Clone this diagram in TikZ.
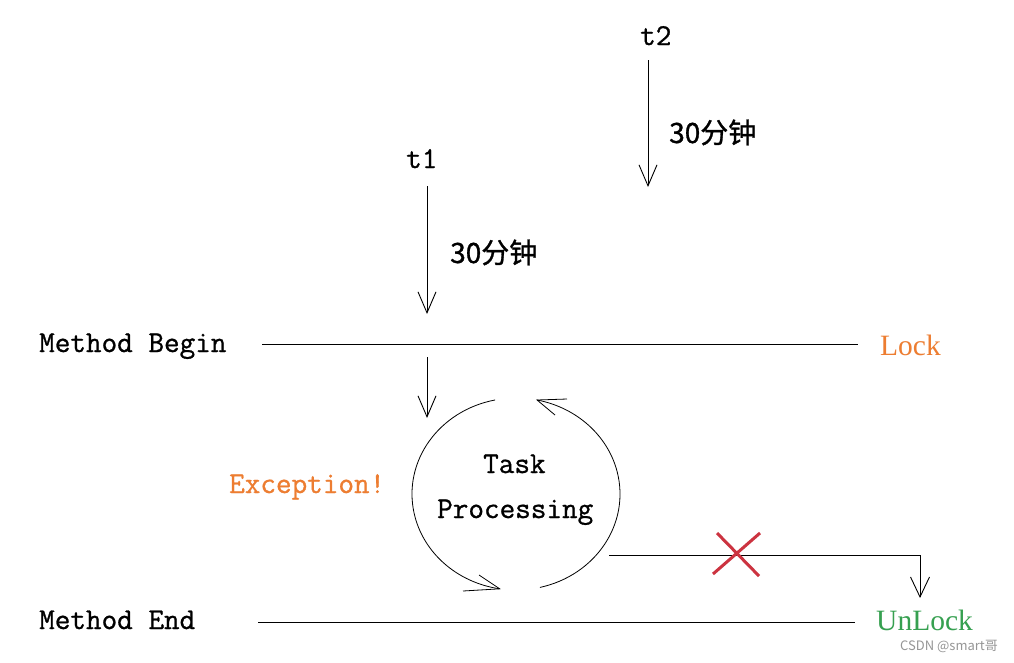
\documentclass[tikz,border=0pt]{standalone}
\usepackage{fontspec}
\newfontfamily\cjk{Noto Sans CJK SC}
\newfontfamily\cjkB{Noto Sans CJK SC}[FakeBold=1.0]
\newfontfamily\serifL{Liberation Serif}
\newfontfamily\monoB{Latin Modern Mono}[FakeBold=0.9]
\usetikzlibrary{arrows.meta}
\definecolor{lockorange}{RGB}{237,125,49}
\definecolor{unlockgreen}{RGB}{54,160,80}
\definecolor{xred}{RGB}{204,51,64}
\definecolor{wmgray}{RGB}{150,150,150}
\begin{document}
\begin{tikzpicture}[x=1pt,y=1pt,
  thin line/.style={line width=0.9pt},
  arr/.style={thin line,-{Straight Barb[length=21pt,width=18pt,line width=0.9pt]}},
  monotext/.style={font=\fontsize{30.3}{32}\selectfont\monoB,inner sep=0pt,anchor=base west},
  serifbig/.style={font=\fontsize{29.5}{31}\selectfont\serifL,inner sep=0pt,anchor=base west},
  cjktext/.style={font=\fontsize{28}{30}\selectfont\cjkB,inner sep=0pt,anchor=base west},
  xline/.style={line width=3pt,xred}]
\useasboundingbox (0,0) rectangle (1014,-662);
\fill[white] (0,0) rectangle (1014,-662);

% labels
\node[monotext] (t2) at (640,-45) {t2};
\node[monotext] (t1) at (406,-168) {t1};
\node[cjktext] (m2) at (669,-143) {30分钟};
\node[cjktext] (m1) at (450,-263) {30分钟};
\node[monotext] (mb) at (39,-352) {Method Begin};
\node[monotext] (me) at (39,-629) {Method End};
\node[serifbig,text=lockorange] (lock) at (880,-355) {Lock};
\node[serifbig,text=unlockgreen] (unlock) at (876,-630) {UnLock};
\node[monotext,text=lockorange] (exc) at (229,-493) {Exception!};
\node[monotext] (task) at (483,-473) {Task};
\node[monotext] (proc) at (437,-518) {Processing};
\node[font=\fontsize{13}{15}\selectfont\cjk,text=wmgray,inner sep=0pt,anchor=base west] (wm) at (900,-650) {CSDN @smart哥};

% time arrows
\coordinate (t2a) at (648,-60);
\coordinate (t2b) at (648,-187);
\coordinate (t1a) at (427,-186);
\coordinate (t1b) at (427,-314);
\draw[arr] (t2a) -- (t2b);
\draw[arr] (t1a) -- (t1b);

% method lines
\coordinate (bl) at (262,-344);
\coordinate (br) at (858,-344);
\coordinate (el) at (258,-622);
\coordinate (er) at (855,-622);
\draw[thin line] (bl) -- (br);
\draw[thin line] (el) -- (er);

% entry arrow
\coordinate (ea) at (427,-357);
\coordinate (eb) at (427,-418);
\draw[arr] (ea) -- (eb);

% processing loop
\coordinate (c) at (516,-494);
\draw[line width=0.8pt] ([shift={(101.6:104pt and 96pt)}]c) arc[start angle=101.6,end angle=261,x radius=104pt,y radius=96pt] coordinate (ltip);
\draw[line width=0.8pt] ([shift={(-76.7:104pt and 96pt)}]c) arc[start angle=-76.7,end angle=78.3,x radius=104pt,y radius=96pt] coordinate (rtip);
\coordinate (lb1) at (463,-591);
\coordinate (lb2) at (479,-575);
\coordinate (rb1) at (567,-399);
\coordinate (rb2) at (555,-415);
\draw[line width=0.8pt] (lb1) -- (ltip) -- (lb2);
\draw[line width=0.8pt] (rb1) -- (rtip) -- (rb2);

% unlock path
\coordinate (ua) at (609,-555);
\coordinate (ub) at (920,-555);
\coordinate (uc) at (920,-598);
\draw[thin line,-{Straight Barb[length=20pt,width=19pt,line width=0.9pt]}] (ua) -- (ub) -- (uc);

% red cross
\coordinate (x1) at (713,-574);
\coordinate (x2) at (760,-533);
\coordinate (x3) at (717,-533);
\coordinate (x4) at (759,-576);
\draw[xline] (x1) -- (x2);
\draw[xline] (x3) -- (x4);
\end{tikzpicture}
\end{document}
